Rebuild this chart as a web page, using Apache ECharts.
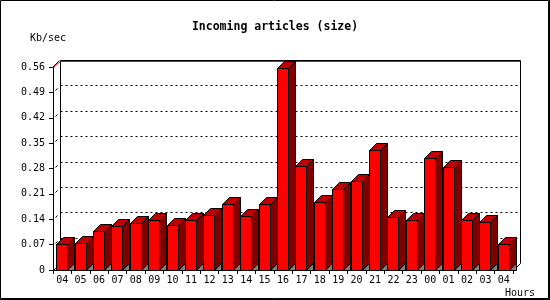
<!DOCTYPE html>
<html>
<head>
<meta charset="utf-8">
<script src="https://cdn.jsdelivr.net/npm/echarts@6/dist/echarts.min.js"></script>
<style>html,body{margin:0;padding:0;background:#fff}#c{width:550px;height:300px}</style>
</head>
<body>
<div id="c"></div>
<script>
var hours = ['04','05','06','07','08','09','10','11','12','13','14','15','16','17','18','19','20','21','22','23','00','01','02','03','04'];
var kbPerSec = [0.071,0.074,0.108,0.121,0.129,0.137,0.123,0.137,0.151,0.181,0.148,0.181,0.556,0.286,0.188,0.223,0.245,0.330,0.145,0.137,0.308,0.283,0.137,0.132,0.071];
var yTicks = [0,0.07,0.14,0.21,0.28,0.35,0.42,0.49,0.56];
var titleText = 'Incoming articles (size)';
var yName = 'Kb/sec';
var xName = 'Hours';

var D = 7; // depth in px
var FONT = '"DejaVu Sans Mono", "Liberation Mono", monospace';
function r(v){ return Math.round(v) + 0.5; }

var chart = echarts.init(document.getElementById('c'), null, {renderer:'canvas'});

function frameRender(params, api) {
  var half = api.size([1,0])[0] / 2;
  var x0 = r(api.coord([0, 0])[0] - half);
  var x1 = r(api.coord([hours.length - 1, 0])[0] + half);
  var yb = r(api.coord([0, yTicks[0]])[1]);
  var yt = r(api.coord([0, yTicks[yTicks.length - 1]])[1]);
  var blk = {stroke:'#000', lineWidth:1, fill:null};
  var kids = [];
  // grid lines on back wall
  for (var i = 1; i < yTicks.length - 1; i++) {
    var y = r(api.coord([0, yTicks[i]])[1]);
    kids.push({type:'line', shape:{x1:x0 + D, y1:y - D, x2:x1 + D, y2:y - D}, style:{stroke:'#000', lineWidth:1, lineDash:[2,3]}});
    kids.push({type:'line', shape:{x1:x0 + 2, y1:y - 2, x2:x0 + 4, y2:y - 4}, style:blk});
  }
  // back wall edges
  kids.push({type:'line', shape:{x1:x0 + D, y1:yt - D, x2:x0 + D, y2:yb - D}, style:blk});
  kids.push({type:'line', shape:{x1:x1 + D, y1:yt - D, x2:x1 + D, y2:yb - D}, style:blk});
  kids.push({type:'line', shape:{x1:x0 + D, y1:yt - D, x2:x1 + D, y2:yt - D}, style:blk});
  kids.push({type:'rect', shape:{x:x0 + D + 0.5, y:yt - D + 0.5, width:x1 - x0 - 1, height:1}, style:{fill:'#ff0000', stroke:null}});
  // depth edges
  kids.push({type:'line', shape:{x1:x0, y1:yt, x2:x0 + D, y2:yt - D + 1}, style:{stroke:'#ff0000', lineWidth:1}});
  kids.push({type:'line', shape:{x1:x0 - 1, y1:yt, x2:x0 + D - 1, y2:yt - D}, style:blk});
  kids.push({type:'line', shape:{x1:x0, y1:yb, x2:x0 + D, y2:yb - D}, style:blk});
  kids.push({type:'line', shape:{x1:x1, y1:yb, x2:x1 + D, y2:yb - D}, style:blk});
  return {type:'group', children:kids};
}

function barRender(params, api) {
  var c = api.coord([api.value(0), api.value(1)]);
  var z = api.coord([api.value(0), 0]);
  var fl = r(c[0] - 6), fr = fl + 11;
  var yt = r(c[1]), yb = r(z[1]);
  var st = {stroke:'#000', lineWidth:1};
  return {type:'group', children:[
    {type:'polygon', shape:{points:[[fr,yb],[fr + D,yb - D],[fr + D,yb]]}, style:Object.assign({fill:'#808080'}, st)},
    {type:'polygon', shape:{points:[[fr,yt],[fr + D,yt - D],[fr + D,yb - D],[fr,yb]]}, style:Object.assign({fill:'#800000'}, st)},
    {type:'polygon', shape:{points:[[fl,yt],[fl + D,yt - D],[fr + D,yt - D],[fr,yt]]}, style:Object.assign({fill:'#c00000'}, st)},
    {type:'polygon', shape:{points:[[fl,yt],[fr,yt],[fr,yb],[fl,yb]]}, style:Object.assign({fill:'#ff0000'}, st)}
  ]};
}

chart.setOption({
  animation:false,
  backgroundColor:'#fff',
  title:{text:titleText, left:'center', top:16, textStyle:{fontFamily:FONT, fontSize:11.5, fontWeight:'bold', color:'#000'}},
  grid:{left:53, right:37, top:67, bottom:30, containLabel:false},
  xAxis:{type:'category', data:hours, boundaryGap:true,
    axisLine:{show:true, lineStyle:{color:'#000', width:1}},
    axisTick:{show:true, length:4, lineStyle:{color:'#000'}},
    axisLabel:{color:'#000', fontFamily:FONT, fontSize:10, margin:5, interval:0},
    splitLine:{show:false}},
  yAxis:{type:'value', min:0, max:0.56, interval:0.07,
    axisLine:{show:true, lineStyle:{color:'#000', width:1}},
    axisTick:{show:true, length:4, lineStyle:{color:'#000'}},
    axisLabel:{color:'#000', fontFamily:FONT, fontSize:10, margin:8,
      formatter:function(v){ return v === 0 ? '0' : v.toFixed(2); }},
    splitLine:{show:false}},
  graphic:[
    {type:'rect', shape:{x:0.5, y:0.5, width:548, height:298}, style:{fill:null, stroke:'#000', lineWidth:1}, z:100},
    {type:'line', shape:{x1:0, y1:299.5, x2:550, y2:299.5}, style:{stroke:'#000', lineWidth:1}, z:100},
    {type:'line', shape:{x1:549.5, y1:0, x2:549.5, y2:300}, style:{stroke:'#000', lineWidth:1}, z:100},
    {type:'text', left:30, top:33, style:{text:yName, fill:'#000', font:'10px ' + FONT}},
    {type:'text', left:505, top:288, style:{text:xName, fill:'#000', font:'10px ' + FONT}}
  ],
  series:[
    {type:'custom', coordinateSystem:'cartesian2d', renderItem:frameRender, data:[[0,0]], z:1, silent:true},
    {type:'custom', coordinateSystem:'cartesian2d', renderItem:barRender,
      data:hours.map(function(h,i){ return [i, kbPerSec[i]]; }), z:3, silent:true}
  ]
});
</script>
</body>
</html>
